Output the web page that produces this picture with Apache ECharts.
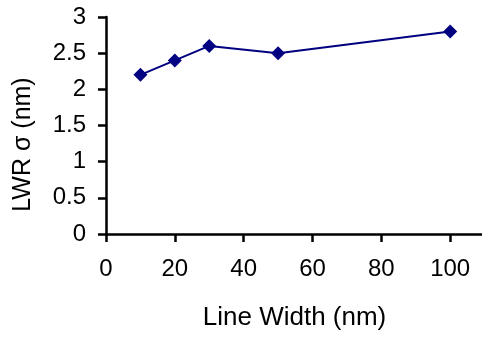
<!DOCTYPE html>
<html>
<head>
<meta charset="utf-8">
<script src="https://cdn.jsdelivr.net/npm/echarts@6/dist/echarts.min.js"></script>
<style>
html,body{margin:0;padding:0;background:#fff;}
#main{width:482px;height:337px;}
</style>
</head>
<body>
<div id="main"></div>
<script>
var lineWidths = [10, 20, 30, 50, 100];
var lwrSigma = [2.2, 2.4, 2.6, 2.5, 2.8];
var xTitle = 'Line Width (nm)';
var yTitle = 'LWR σ (nm)';

var chart = echarts.init(document.getElementById('main'), null, {renderer: 'canvas'});
var font = 'Liberation Sans, Arial, sans-serif';
chart.setOption({
  animation: false,
  backgroundColor: '#ffffff',
  grid: {left: 106, width: 413, top: 17, height: 217, containLabel: false, outerBoundsMode: 'none'},
  xAxis: {
    type: 'value', min: 0, max: 120, interval: 20,
    name: xTitle, nameLocation: 'middle', nameGap: 71,
    nameTextStyle: {color: '#000', fontSize: 26, fontFamily: font, padding: [0, 36, 0, 0]},
    axisLine: {show: true, lineStyle: {color: '#000', width: 2.5}},
    axisTick: {show: true, inside: false, length: 8, lineStyle: {color: '#000', width: 2.5}},
    axisLabel: {color: '#000', fontSize: 24, fontFamily: font, margin: 23},
    splitLine: {show: false}
  },
  yAxis: {
    type: 'value', min: 0, max: 3, interval: 0.5,
    name: yTitle, nameLocation: 'middle', nameGap: 70,
    nameTextStyle: {color: '#000', fontSize: 25, fontFamily: font, padding: [0, 38, 0, 0]},
    axisLine: {show: true, onZero: false, lineStyle: {color: '#000', width: 2.5}},
    axisTick: {show: true, inside: false, length: 8, lineStyle: {color: '#000', width: 2.5}},
    axisLabel: {color: '#000', fontSize: 24, fontFamily: font, margin: 20},
    splitLine: {show: false}
  },
  series: [{
    type: 'line',
    data: lineWidths.map(function (x, i) { return [x, lwrSigma[i]]; }),
    symbol: 'diamond', symbolSize: 14,
    itemStyle: {color: '#000080'},
    lineStyle: {color: '#000080', width: 2}
  }]
});
</script>
</body>
</html>
